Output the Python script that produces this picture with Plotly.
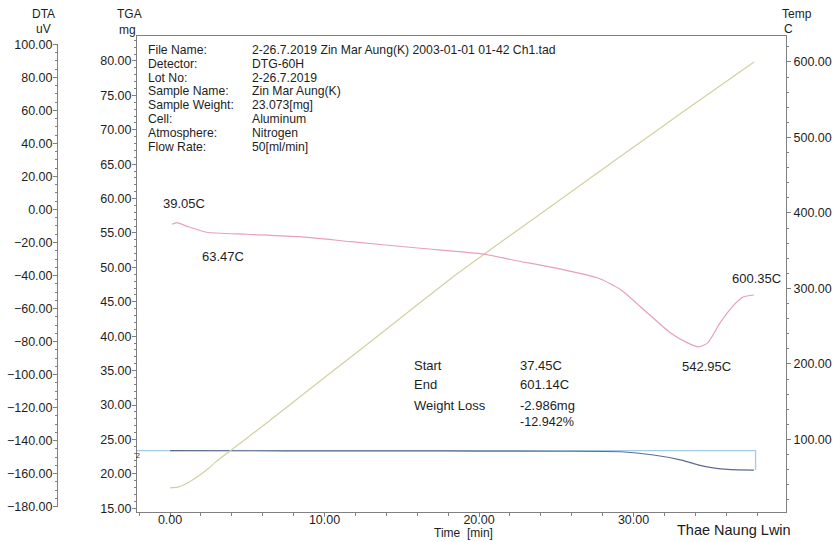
import plotly.graph_objects as go

# ---------------- data ----------------
time_temp = [0.0, 0.5, 1.0, 1.5, 2.0, 2.5, 3.0, 3.9, 6.0, 10.0, 14.0, 18.1, 20.3, 25.0, 29.3, 33.0, 37.8]
temp_c = [36, 37, 41, 47, 54, 62, 71, 85, 118, 182, 246, 312, 345, 414, 477, 531, 600]

time_dta = [0.13, 0.43, 1.2, 2.38, 5.0, 8.4, 11.7, 16.2, 20.3, 22.2, 25.5, 27.7, 29.2, 30.9, 32.4,
            33.5, 34.2, 34.8, 35.6, 36.5, 37.1, 37.8]
dta_uv = [-9.0, -8.0, -10.5, -13.8, -15.0, -16.5, -19.5, -23.5, -27.0, -30.6, -36.6, -41.5, -48.7,
          -62.7, -74.8, -80.8, -83.2, -80.8, -68.7, -57.8, -53.0, -51.8]

time_tga = [0.0, 5.0, 10.0, 15.0, 20.0, 25.0, 29.2, 31.3, 33.1, 34.5, 36.1, 37.8]
tga_mg = [23.36, 23.35, 23.34, 23.33, 23.31, 23.28, 23.21, 22.73, 22.0, 21.13, 20.65, 20.55]

x_ticks = [0, 10, 20, 30]
tga_ticks = [15, 20, 25, 30, 35, 40, 45, 50, 55, 60, 65, 70, 75, 80]
dta_ticks = [-180, -160, -140, -120, -100, -80, -60, -40, -20, 0, 20, 40, 60, 80, 100]
temp_ticks = [100, 200, 300, 400, 500, 600]

header_keys = ["File Name:", "Detector:", "Lot No:", "Sample Name:", "Sample Weight:", "Cell:",
               "Atmosphere:", "Flow Rate:"]
header_vals = ["2-26.7.2019 Zin Mar Aung(K) 2003-01-01 01-42 Ch1.tad", "DTG-60H", "2-26.7.2019",
               "Zin Mar Aung(K)", "23.073[mg]", "Aluminum", "Nitrogen", "50[ml/min]"]
result_keys = ["Start", "End", "Weight Loss", ""]
result_vals = ["37.45C", "601.14C", "-2.986mg", "-12.942%"]

# ---------------- layout helpers ----------------
W, H = 837, 542
L, R, T, B = 137, 786, 36, 512
FONT = "Liberation Sans, Arial, sans-serif"
FS = 12.5
FA = 13
FH = 12.2
TXT = "#1e1e1e"
AX = "#808080"


def px(x):
    return x / W


def py(y):
    return (B - y) / (B - T)


fig = go.Figure()

# temperature
fig.add_trace(go.Scatter(x=time_temp, y=temp_c, yaxis="y3", mode="lines",
                         line=dict(color="#d2d0a2", width=1.2, shape="spline", smoothing=0.5),
                         hoverinfo="skip", showlegend=False))
# DTA
fig.add_trace(go.Scatter(x=time_dta, y=dta_uv, yaxis="y2", mode="lines",
                         line=dict(color="#e6a2b4", width=1.2, shape="spline", smoothing=0.6),
                         hoverinfo="skip", showlegend=False))
# TGA baseline box (start mass to end)
x_min = -2.14
fig.add_trace(go.Scatter(x=[x_min, time_tga[-1] + 0.1, time_tga[-1] + 0.1],
                         y=[tga_mg[0], tga_mg[0], tga_mg[-1]], yaxis="y", mode="lines",
                         line=dict(color="#a3cde4", width=1.3),
                         hoverinfo="skip", showlegend=False))
# TGA
fig.add_trace(go.Scatter(x=time_tga, y=tga_mg, yaxis="y", mode="lines",
                         line=dict(color="#5d6c8e", width=1.2, shape="spline", smoothing=0.6),
                         hoverinfo="skip", showlegend=False))

tickfont = dict(family=FONT, size=FS, color=TXT)

fig.update_layout(
    width=W, height=H,
    margin=dict(l=0, r=0, t=T, b=H - B, pad=0),
    paper_bgcolor="white", plot_bgcolor="rgba(0,0,0,0)",
    showlegend=False,
    xaxis=dict(domain=[px(L), px(R)], range=[x_min, 39.87], tickvals=x_ticks,
               tickformat=".2f", ticks="outside", ticklen=4, tickcolor=AX,
               minor=dict(dtick=2, ticks="outside", ticklen=3, tickcolor=AX),
               showline=True, linecolor=AX, linewidth=1, mirror=True,
               showgrid=False, zeroline=False, tickfont=tickfont, anchor="y",
               ticklabelstandoff=-8),
    yaxis=dict(range=[14.45, 83.63], tickvals=tga_ticks, tickformat=".2f",
               ticks="outside", ticklen=4, tickcolor=AX,
               minor=dict(dtick=1, ticks="outside", ticklen=2, tickcolor=AX),
               showline=True, linecolor=AX, linewidth=1, showgrid=False, zeroline=False,
               tickfont=tickfont, anchor="x", side="left", ticklabelstandoff=-2),
    yaxis2=dict(domain=[0.011, 0.9826], range=[-180, 100], tickvals=dta_ticks, tickformat=".2f",
                ticks="outside", ticklen=4, tickcolor=AX,
                minor=dict(dtick=5, ticks="outside", ticklen=2, tickcolor=AX),
                showline=True, linecolor=AX, linewidth=1, showgrid=False, zeroline=False,
                tickfont=tickfont, anchor="free", position=px(57), side="left",
                ticklabelstandoff=-2),
    yaxis3=dict(range=[3.97, 634.4], tickvals=temp_ticks, tickformat=".2f",
                ticks="outside", ticklen=4, tickcolor=AX,
                minor=dict(dtick=20, ticks="outside", ticklen=2, tickcolor=AX),
                showline=True, linecolor=AX, linewidth=1, showgrid=False, zeroline=False,
                tickfont=tickfont, anchor="x", overlaying="y", side="right"),
)

ann = []


def text(s, x, y, xanchor="left", size=FA, color=TXT):
    ann.append(dict(text=s, x=px(x), y=py(y), xref="paper", yref="paper",
                    xanchor=xanchor, yanchor="middle", showarrow=False, borderpad=0,
                    font=dict(family=FONT, size=size, color=color)))


# header block (tight line spacing as in the original printout)
for i, (k, v) in enumerate(zip(header_keys, header_vals)):
    y = 50.0 + 13.8 * i
    text(k, 147, y, size=FH)
    text(v, 251, y, size=FH)

# results block
res_y = [365, 384, 405, 422]
for k, v, y in zip(result_keys, result_vals, res_y):
    if k:
        text(k, 413, y)
    text(v, 519, y, size=12.6 if not k else FA)

# peak labels
text("39.05C", 162, 204)
text("63.47C", 201, 256)
text("600.35C", 731, 278)
text("542.95C", 681, 366)

# axis titles
text("DTA", 43, 14.5, "center", size=12)
text("uV", 43, 29, "center", size=12)
text("TGA", 129, 14.5, "center", size=12)
text("mg", 128, 29.5, "center", size=12)
text("Temp", 797, 14.5, "center", size=12)
text("C", 788, 29, "center", size=12)
text("Time  [min]", 463, 533, "center", size=12)
text("Thae Naung Lwin", 734, 530, "center", size=14.5, color="#1a1a1a")
text("2", 138, 455, "center", size=7)

fig.update_layout(annotations=ann)
fig.write_html("out.html")
